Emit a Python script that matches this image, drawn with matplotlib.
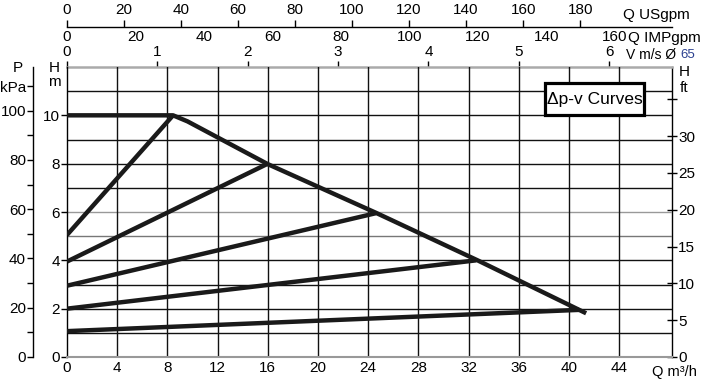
import numpy as np
import matplotlib.pyplot as plt
from matplotlib.patches import Rectangle

plt.rcParams['font.family'] = ['Liberation Sans', 'DejaVu Sans']

# unit conversions (from m3/h and m)
KPA_PER_M = 9.81
FT_PER_M = 3.2808
USGPM_PER_M3H = 4.4029
IMPGPM_PER_M3H = 3.6662
M3H_PER_MS = 7.2   # flow for 1 m/s

# maximum curve
q_max = [0, 8.45, 9.6, 16.0, 24.6, 32.75, 41.2]
h_max = [10.0, 10.0, 9.75, 7.98, 5.97, 3.99, 1.85]

# delta p-v lines (start head at Q=0, end point on max curve)
dpv_start_h = [5.05, 3.95, 2.95, 2.0, 1.07]
dpv_end_q = [8.45, 16.0, 24.6, 32.6, 40.8]
dpv_end_h = [10.0, 8.0, 5.95, 4.0, 1.95]

q_ticks = list(range(0, 45, 4))
h_ticks = [0, 2, 4, 6, 8, 10]
p_ticks = [0, 20, 40, 60, 80, 100, 110]
p_labels = ['0', '20', '40', '60', '80', '100', 'kPa']
p_minor = [10, 30, 50, 70, 90]
ft_ticks = [0, 5, 10, 15, 20, 25, 30, 35]
ft_labels = ['0', '5', '10', '15', '20', '25', '30', '']
us_ticks = list(range(0, 181, 20))
imp_ticks = list(range(0, 161, 20))
v_ticks = list(range(0, 7))

fs = 11
fig = plt.figure(figsize=(7.05, 3.79), dpi=100)
ax = fig.add_axes([67 / 705, 22 / 379, 605 / 705, 290 / 379])
ax.set_xlim(0, 48.2)
ax.set_ylim(0, 12)

# grid (a couple of lines print lighter in the original)
grid_col = {5: '#777777', 6: '#999999'}
for h in range(1, 12):
    ax.axhline(h, color=grid_col.get(h, '#111111'), lw=1.0, zorder=1)
for q in q_ticks[1:]:
    ax.axvline(q, color='#111111', lw=1.0, zorder=1)

# curves
lc = '#1a1a1a'
ax.plot(q_max, h_max, color=lc, lw=3.2, solid_joinstyle='round', zorder=3)
for h0, q1, h1 in zip(dpv_start_h, dpv_end_q, dpv_end_h):
    ax.plot([0, q1], [h0, h1], color=lc, lw=3.2, solid_capstyle='butt', zorder=3)

# label box
ax.add_patch(Rectangle((38.1, 10.02), 7.85, 1.32, fc='white', ec='black', lw=2.3, zorder=5))
ax.text(42.03, 10.66, '\u0394p-v Curves', fontsize=12.5, ha='center', va='center', zorder=6)

# main axes spines / ticks
ax.spines['top'].set_visible(False)
ax.spines['bottom'].set_color('#999999')
ax.spines['bottom'].set_linewidth(1.5)
ax.spines['left'].set_linewidth(1.0)
ax.spines['right'].set_visible(False)
ax.set_xticks(q_ticks)
ax.set_yticks(h_ticks)
ax.tick_params(axis='x', length=0, pad=3, labelsize=fs)
ax.tick_params(axis='y', direction='out', length=4, width=1, pad=1, labelsize=fs)

# right H ft axis
axr = ax.secondary_yaxis('right', functions=(lambda m: m * FT_PER_M, lambda f: f / FT_PER_M))
axr.set_yticks(ft_ticks)
axr.set_yticklabels(ft_labels)
axr.tick_params(direction='inout', length=7, width=1, pad=1, labelsize=fs)
axr.spines['right'].set_linewidth(1.0)

# left P kPa axis
axp = ax.secondary_yaxis(-34 / 605, functions=(lambda m: m * KPA_PER_M, lambda p: p / KPA_PER_M))
axp.set_yticks(p_ticks)
axp.set_yticklabels(p_labels)
axp.set_yticks(p_minor, minor=True)
axp.tick_params(which='both', direction='out', length=4, width=1, pad=1, labelsize=fs)
axp.spines['left'].set_linewidth(1.0)

# top V m/s axis on the plot border
axv = ax.secondary_xaxis(1.0, functions=(lambda q: q / M3H_PER_MS, lambda v: v * M3H_PER_MS))
axv.set_xticks(v_ticks)
axv.tick_params(direction='out', length=4, width=1, pad=2, labelsize=fs)
axv.spines['top'].set_color('#aaaaaa')
axv.spines['top'].set_linewidth(1.8)

# IMPgpm labels (no line)
axi = ax.secondary_xaxis((357 - 45) / 290, functions=(lambda q: q * IMPGPM_PER_M3H, lambda g: g / IMPGPM_PER_M3H))
axi.set_xticks(imp_ticks)
axi.tick_params(length=0, pad=1, labelsize=fs)
axi.spines['top'].set_visible(False)

# USgpm axis
axu = ax.secondary_xaxis((357 - 27) / 290, functions=(lambda q: q * USGPM_PER_M3H, lambda g: g / USGPM_PER_M3H))
axu.set_xticks(us_ticks)
axu.tick_params(direction='out', length=5, width=1, pad=2, labelsize=fs)
axu.spines['top'].set_linewidth(1.0)

# unit labels
def lab(x, y, s, ha='left', **kw):
    fig.text(x / 705, 1 - y / 379, s, fontsize=kw.pop('size', fs), ha=ha, va='center', **kw)

lab(623, 15, 'Q USgpm')
lab(628, 38, 'Q IMPgpm')
lab(626, 55, 'V m/s \u00d8', size=10)
lab(680, 55, '65', size=9.5, color='#2a3f8f')
lab(652, 372, 'Q m\u00b3/h', size=10.5)
lab(18, 68, 'P', ha='center')
lab(54, 68, 'H', ha='center')
lab(54, 82, 'm', ha='center')
lab(684, 72, 'H', ha='center')
lab(684, 88, 'ft', ha='center')

fig.savefig('out.png', dpi=100)
